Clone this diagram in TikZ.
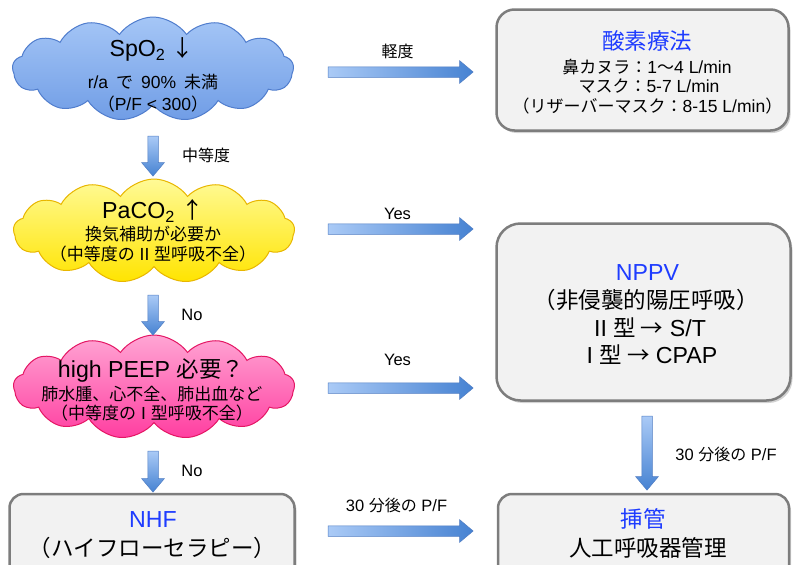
\documentclass[tikz,border=0pt]{standalone}
\usepackage{fontspec}
\setmainfont{Liberation Sans}[Scale=1.03]
\newfontfamily\jp{Noto Sans CJK JP}
\newcommand\J[1]{{\jp #1}}
\usetikzlibrary{shapes.symbols,shapes.arrows,shadows}
\definecolor{tblue}{RGB}{30,60,255}
\definecolor{boxfill}{RGB}{242,242,242}
\definecolor{boxline}{RGB}{125,125,125}
\definecolor{arrL}{RGB}{170,202,246}
\definecolor{arrR}{RGB}{70,130,210}
\definecolor{arrE}{RGB}{80,125,195}
\definecolor{bluT}{RGB}{165,198,246}
\definecolor{bluB}{RGB}{112,157,230}
\definecolor{bluD}{RGB}{80,125,205}
\definecolor{yelT}{RGB}{255,250,150}
\definecolor{yelB}{RGB}{255,228,0}
\definecolor{yelD}{RGB}{232,182,0}
\definecolor{pnkT}{RGB}{255,165,212}
\definecolor{pnkB}{RGB}{255,62,160}
\definecolor{pnkD}{RGB}{228,22,100}
\begin{document}
\begin{tikzpicture}[x=1pt,y=-1pt,
  cloudbase/.style={cloud, cloud puffs=13, cloud puff arc=110, aspect=2.6,
    minimum width=281pt, minimum height=104pt, line width=1pt, inner sep=0pt},
  boxbase/.style={draw=boxline, line width=2.5pt, fill=boxfill,
    drop shadow={shadow xshift=2pt, shadow yshift=-2.5pt, opacity=0.35}},
  harrow/.style={single arrow, minimum height=145pt, minimum width=22pt,
    single arrow head extend=6pt, single arrow tip angle=80, inner sep=5pt,
    left color=arrL, right color=arrR, draw=arrE, line width=0.5pt},
  varrow/.style={single arrow, shape border rotate=270, minimum width=22pt,
    single arrow head extend=6pt, single arrow tip angle=80, inner sep=5pt,
    top color=arrL, bottom color=arrR, draw=arrE, line width=0.5pt},
  big/.style={font=\fontsize{22.5}{26}\selectfont, anchor=base},
  mid/.style={font=\fontsize{17}{20}\selectfont, anchor=base},
  lab/.style={font=\fontsize{16}{19}\selectfont, anchor=base},
  sml/.style={font=\fontsize{17}{19}\selectfont, anchor=base}
]
\useasboundingbox (0,0) rectangle (793,565);
\clip (0,0) rectangle (793,565);

% clouds
\node[cloudbase, top color=bluT, bottom color=bluB, draw=bluD] (c1) at (153,69) {};
\node[cloudbase, top color=yelT, bottom color=yelB, draw=yelD] (c2) at (154,231) {};
\node[cloudbase, top color=pnkT, bottom color=pnkB, draw=pnkD] (c3) at (154,387) {};

\node[big] (c1a) at (152,56) {SpO\textsubscript{2} \J{↓}};
\node[mid] (c1b) at (153,88) {r/a\hspace{8pt}\J{で}\hspace{8pt}90\%\hspace{8pt}\J{未満}};
\node[mid] (c1c) at (153,110) {\J{（}P/F < 300\J{）}};

\node[big] (c2a) at (153,218) {PaCO\textsubscript{2} \J{↑}};
\node[mid] (c2b) at (153,240.5) {\J{換気補助が必要か}};
\node[mid] (c2c) at (153,260.5) {\J{（中等度の} II \J{型呼吸不全）}};

\node[big] (c3a) at (151,377) {high PEEP \J{必要？}};
\node[mid] (c3b) at (152,400.5) {\J{肺水腫、心不全、肺出血など}};
\node[mid] (c3c) at (152,419) {\J{（中等度の} I \J{型呼吸不全）}};

% boxes
\node[boxbase, rounded corners=18pt, minimum width=292pt, minimum height=121pt] (ox) at (642.5,70) {};
\node[boxbase, rounded corners=24pt, minimum width=294pt, minimum height=177pt] (np) at (643.5,312) {};
\node[boxbase, rounded corners=14pt, minimum width=285pt, minimum height=90pt] (nhf) at (152,539) {};
\node[boxbase, rounded corners=14pt, minimum width=291pt, minimum height=90pt] (tub) at (643.5,539) {};

\node[big, text=tblue] (oxa) at (647,49) {\J{酸素療法}};
\node[sml] (oxb) at (647,73) {\J{鼻カヌラ：}1\J{〜}4 L/min};
\node[sml] (oxc) at (649,92.5) {\J{マスク：}5-7 L/min};
\node[sml] (oxd) at (647.5,112) {\J{（リザーバーマスク：}8-15 L/min\J{）}};

\node[big, text=tblue] (npa) at (647.5,280) {NPPV};
\node[big] (npb) at (646,308) {\J{（非侵襲的陽圧呼吸）}};
\node[big] (npc) at (650,336.5) {II \J{型 →} S/T};
\node[big] (npd) at (652,363) {I \J{型 →} CPAP};

\node[big, text=tblue] (nhfa) at (153,527) {NHF};
\node[big] (nhfb) at (152.5,556) {\J{（ハイフローセラピー）}};

\node[big, text=tblue] (tuba) at (643,527) {\J{挿管}};
\node[big] (tubb) at (648,556) {\J{人工呼吸器管理}};

% horizontal arrows
\node[harrow] (h1) at (397.5,72) {};
\node[harrow] (h2) at (397.5,229) {};
\node[harrow] (h3) at (397.5,388) {};
\node[harrow] (h4) at (397.5,531) {};

\node[lab] (l1) at (397.5,57) {\J{軽度}};
\node[lab] (l2) at (397.5,219.5) {Yes};
\node[lab] (l3) at (397.5,365) {Yes};
\node[lab] (l4) at (396.5,511) {30 \J{分後の} P/F};

% vertical arrows
\node[varrow, minimum height=40pt] (v1) at (153,153) {};
\node[varrow, minimum height=40pt] (v2) at (153,312) {};
\node[varrow, minimum height=41pt] (v3) at (153,468.5) {};
\node[varrow, minimum height=74pt] (v4) at (647,450) {};

\node[lab] (lv1) at (206,161) {\J{中等度}};
\node[lab] (lv2) at (192,320) {No};
\node[lab] (lv3) at (192,476) {No};
\node[lab] (lv4) at (726,460) {30 \J{分後の} P/F};
\end{tikzpicture}
\end{document}
